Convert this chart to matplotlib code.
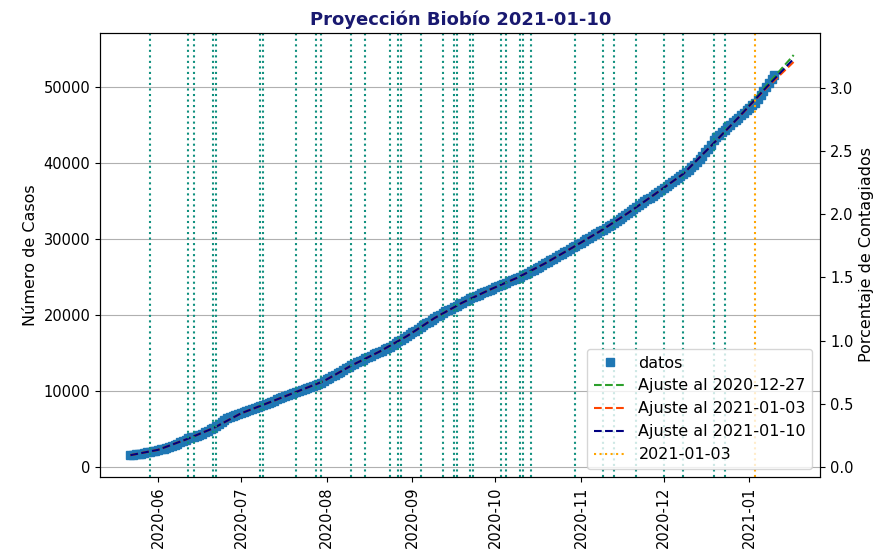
import numpy as np
import pandas as pd
import matplotlib
matplotlib.use("Agg")
import matplotlib.pyplot as plt
import matplotlib.dates as mdates

# Casos acumulados diarios, 2020-05-22 a 2021-01-10
casos = [
    1530, 1582, 1641, 1705, 1768, 1830, 1901, 1970,
    2055, 2140, 2238, 2331, 2420, 2522, 2630,
    2771, 2925, 3080, 3236, 3402, 3597, 3800,
    3905, 4002, 4101, 4210,
    4380, 4565, 4752, 4938, 5130,
    5402, 5668, 5931, 6195, 6450,
    6590, 6718, 6845, 6972, 7100,
    7235, 7364, 7490, 7627, 7760, 7893, 8025, 8160,
    8301, 8447, 8590, 8731, 8878, 9022, 9163, 9309, 9452, 9597, 9740,
    9874, 10012, 10146, 10285, 10420, 10555, 10692, 10828, 10962, 11100,
    11305, 11516, 11722, 11930, 12141, 12350, 12556, 12768, 12976, 13188, 13400,
    13577, 13758, 13934, 14113, 14290, 14470,
    14634, 14802, 14968, 15133, 15300, 15467, 15632, 15800,
    16036, 16275, 16512, 16752, 16988, 17226, 17465, 17703, 17942, 18180, 18420,
    18652, 18880, 19111, 19340, 19572, 19800, 20031, 20260,
    20455, 20645, 20838, 21030, 21220, 21413, 21605, 21796, 21988, 22180, 22370,
    22527, 22686, 22843, 23002, 23160, 23317, 23476, 23634, 23791, 23950,
    24107, 24266, 24423, 24582, 24740, 24897, 25056, 25214, 25371, 25530,
    25740, 25948, 26158, 26366, 26575, 26785, 26993, 27203, 27411, 27620,
    27830, 28038, 28248, 28456, 28665, 28875, 29083, 29300,
    29515, 29730, 29946, 30160, 30377, 30592, 30807, 31022, 31238, 31453,
    31668, 31884, 32100,
    32362, 32625, 32888, 33150, 33412, 33675, 33938, 34200,
    34450, 34700, 34950, 35200, 35450, 35700, 35950, 36200, 36450, 36700,
    36964, 37228, 37493, 37757, 38022, 38286, 38551, 38815, 39080,
    39420, 39780, 40150, 40540, 40950, 41380, 41820, 42400, 43030,
    43380, 43720, 44080,
    44400, 44710, 45020, 45330, 45650, 45970, 46290, 46610, 46930, 47250,
    47570, 47900,
    48420, 48950, 49480, 50000, 50530, 51050, 51580,
]
fechas = pd.date_range("2020-05-22", periods=len(casos), freq="D")

# Curvas de ajuste, cada 10 dias de 2020-05-22 a 2021-01-17
fechas_ajuste = pd.date_range("2020-05-22", "2021-01-17", freq="10D")
ajuste_1227 = [1550, 2250, 3600, 5100, 7050, 8450, 9870, 11300, 13350, 15150,
               17200, 19580, 21600, 23320, 24900, 26780, 28870, 31030, 33400,
               35950, 38550, 42200, 46000, 50100, 54200]
ajuste_0103 = [1550, 2250, 3600, 5100, 7050, 8450, 9870, 11300, 13350, 15150,
               17200, 19580, 21600, 23320, 24900, 26780, 28870, 31030, 33400,
               35950, 38550, 42200, 45950, 49800, 53300]
ajuste_0110 = [1550, 2250, 3600, 5100, 7050, 8450, 9870, 11300, 13350, 15150,
               17200, 19580, 21600, 23320, 24900, 26780, 28870, 31030, 33400,
               35950, 38550, 42200, 45970, 49900, 53700]

# Fechas marcadas con lineas verticales
eventos = ["2020-05-29", "2020-06-12", "2020-06-14", "2020-06-21", "2020-06-22",
           "2020-07-08", "2020-07-09", "2020-07-21", "2020-07-28", "2020-07-30",
           "2020-08-10", "2020-08-15", "2020-08-24", "2020-08-27", "2020-08-28",
           "2020-09-04", "2020-09-12", "2020-09-16", "2020-09-17", "2020-09-22",
           "2020-09-23", "2020-10-03", "2020-10-05", "2020-10-10", "2020-10-11",
           "2020-10-14", "2020-10-30", "2020-11-09", "2020-11-13", "2020-11-21",
           "2020-12-01", "2020-12-08", "2020-12-19", "2020-12-23"]
fecha_corte = "2021-01-03"

POBLACION = 1663696  # habitantes Region del Biobio

fig = plt.figure(figsize=(8.85, 5.59), dpi=100)
ax = fig.add_axes([0.113, 0.147, 0.814, 0.794])

ax.plot(fechas, casos, 's', color='#1f77b4', markersize=6, label='datos')
ax.plot(fechas_ajuste, ajuste_1227, '--', color='tab:green', linewidth=1.5,
        label='Ajuste al 2020-12-27')
ax.plot(fechas_ajuste, ajuste_0103, '--', color='orangered', linewidth=1.5,
        label='Ajuste al 2021-01-03')
ax.plot(fechas_ajuste, ajuste_0110, '--', color='navy', linewidth=1.5,
        label='Ajuste al 2021-01-10')

for f in eventos:
    ax.axvline(pd.Timestamp(f), color='#10907f', linestyle=':', linewidth=1.5)
ax.axvline(pd.Timestamp(fecha_corte), color='orange', linestyle=':',
           linewidth=1.5, label=fecha_corte)

ax.set_xlim(pd.Timestamp("2020-05-11"), pd.Timestamp("2021-01-26 16:00"))
ylim = (-1300, 57100)
ax.set_ylim(*ylim)
ax.xaxis.set_major_locator(mdates.MonthLocator())
ax.xaxis.set_major_formatter(mdates.DateFormatter('%Y-%m'))
ax.tick_params(labelsize=10.5)
plt.setp(ax.get_xticklabels(), rotation=90)
ax.set_ylabel('Número de Casos', fontsize=11.5)
ax.grid(axis='y', color='#b0b0b0', linewidth=0.8)
ax.set_title('Proyección Biobío 2021-01-10', fontsize=13, fontweight='bold',
             color='midnightblue')
ax.legend(loc='lower right', fontsize=11.5)

ax2 = ax.twinx()
ax2.set_ylim(ylim[0] / POBLACION * 100, ylim[1] / POBLACION * 100)
ax2.tick_params(labelsize=10.5)
ax2.set_ylabel('Porcentaje de Contagiados', fontsize=11.5)

fig.savefig('out.png', dpi=100)
